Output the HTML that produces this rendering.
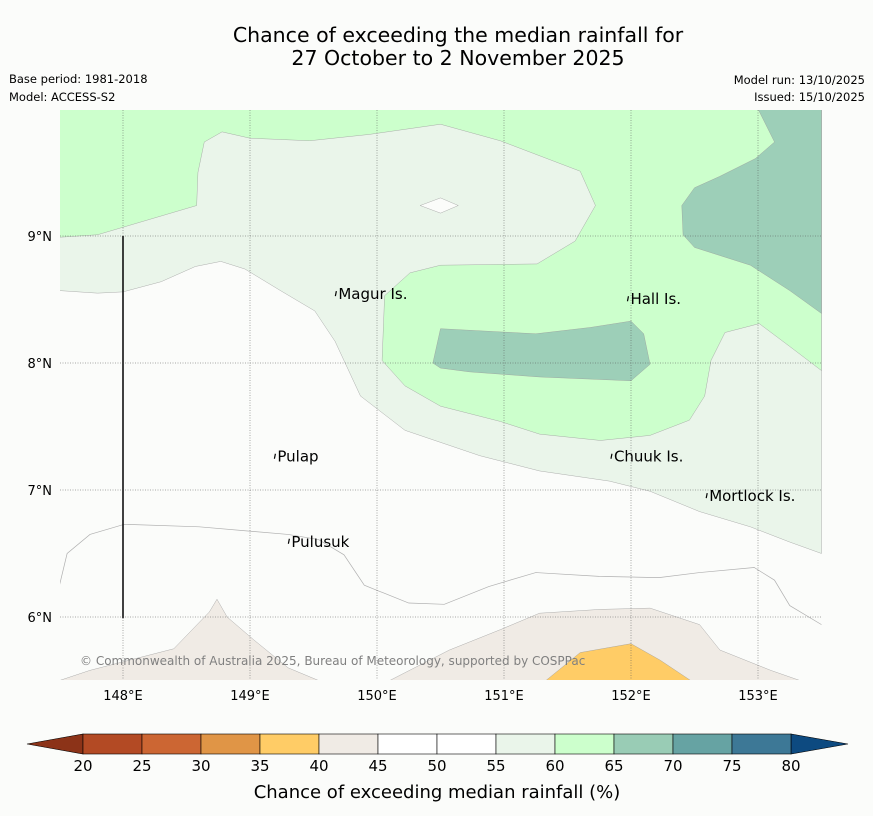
<!DOCTYPE html>
<html><head><meta charset="utf-8"><style>
body{margin:0;background:#fbfcfa;font-family:"DejaVu Sans","Liberation Sans",sans-serif;}
svg{display:block}
</style></head><body>
<svg id="chart" width="873" height="816" viewBox="0 0 873 816" xmlns="http://www.w3.org/2000/svg" font-family="DejaVu Sans, Liberation Sans, sans-serif">
<rect width="873" height="816" fill="#fbfcfa"/>
<text x="458" y="42" font-size="20.5" text-anchor="middle" fill="#000">Chance of exceeding the median rainfall for</text>
<text x="458" y="65" font-size="20.5" text-anchor="middle" fill="#000">27 October to 2 November 2025</text>
<text x="9" y="83" font-size="11.5">Base period: 1981-2018</text>
<text x="9" y="101" font-size="11.5">Model: ACCESS-S2</text>
<text x="865" y="84" font-size="11.5" text-anchor="end">Model run: 13/10/2025</text>
<text x="865" y="101" font-size="11.5" text-anchor="end">Issued: 15/10/2025</text>
<g id="map"></g>
<g id="cbar"></g>
<text x="437" y="798" font-size="18" text-anchor="middle">Chance of exceeding median rainfall (%)</text>
</svg>
<script>
const lonTicks=[148,149,150,151,152,153];
const latTicks=[6,7,8,9];
const cbLevels=[20,25,30,35,40,45,50,55,60,65,70,75,80];
const cbColors=["#b34a24","#cc6633","#e09546","#ffcc66","#f0ebe5","#ffffff","#ffffff","#eaf5ea","#ccffcc","#99ccb5","#66a3a3","#3d7896"];
const lightGreen=[[147.5,10],[147.5,8.57],[147.8,8.55],[148,8.56],[148.3,8.64],[148.57,8.76],[148.77,8.8],[148.96,8.74],[149.24,8.57],[149.51,8.41],[149.67,8.17],[149.87,7.74],[150.22,7.47],[150.81,7.27],[151.28,7.15],[151.83,7.07],[152.15,6.99],[152.54,6.83],[152.94,6.71],[153.25,6.59],[153.5,6.5],[153.5,10]];
const green=[[147.5,10],[147.5,8.99],[147.8,9.01],[148.58,9.24],[148.59,9.5],[148.64,9.74],[148.78,9.82],[149,9.77],[149.47,9.75],[149.94,9.8],[150.5,9.88],[150.97,9.75],[151.6,9.51],[151.72,9.24],[151.56,8.96],[151.26,8.78],[150.5,8.77],[150.26,8.71],[150.06,8.53],[150.04,8.02],[150.22,7.82],[150.5,7.66],[150.97,7.54],[151.28,7.44],[151.76,7.39],[152.15,7.43],[152.46,7.55],[152.58,7.74],[152.63,8.02],[152.74,8.24],[153.01,8.31],[153.25,8.13],[153.5,7.94],[153.5,10]];
const teal1=[[153.0,10],[153.13,9.74],[152.98,9.61],[152.7,9.47],[152.5,9.38],[152.4,9.24],[152.41,9.01],[152.5,8.91],[152.94,8.77],[153.25,8.57],[153.5,8.39],[153.5,10]];
const teal2=[[150.5,8.27],[151.25,8.23],[151.68,8.28],[152.0,8.33],[152.1,8.23],[152.15,7.99],[152.0,7.86],[151.28,7.89],[150.73,7.93],[150.5,7.96],[150.44,8.0]];
const hole=[[150.34,9.24],[150.5,9.3],[150.64,9.24],[150.5,9.18]];
const beige1=[[147.5,5.5],[147.74,5.58],[148.05,5.66],[148.4,5.75],[148.68,6.04],[148.74,6.14],[148.82,6.0],[149.03,5.82],[149.3,5.6],[149.54,5.5]];
const beige2=[[150.1,5.5],[150.57,5.74],[150.97,5.9],[151.28,6.03],[151.76,6.06],[152.15,6.07],[152.54,5.94],[152.7,5.74],[153.1,5.58],[153.33,5.5]];
const yellow=[[151.33,5.5],[151.6,5.72],[152.0,5.79],[152.23,5.66],[152.47,5.5]];
const line50=[[147.5,6.25],[147.56,6.5],[147.74,6.65],[148.01,6.73],[148.6,6.71],[149.3,6.65],[149.54,6.61],[149.74,6.49],[149.9,6.25],[150.25,6.11],[150.53,6.1],[150.88,6.24],[151.25,6.35],[151.75,6.32],[152.22,6.31],[152.54,6.35],[152.97,6.39],[153.13,6.29],[153.25,6.09],[153.5,5.94]];
const islands=[["Magur Is.",149.68,8.55],["Hall Is.",151.98,8.51],["Pulap",149.2,7.27],["Chuuk Is.",151.85,7.27],["Mortlock Is.",152.6,6.96],["Pulusuk",149.31,6.6]];
const X0=59.5,Y9=236,S=127;
const xs=lon=>X0+(lon-147.5)*S;
const ys=lat=>Y9-(lat-9)*S;
const NS="http://www.w3.org/2000/svg";
const map=document.getElementById('map');
function mk(tag,attrs,parent){const e=document.createElementNS(NS,tag);for(const k in attrs)e.setAttribute(k,attrs[k]);parent.appendChild(e);return e;}
const clip=mk('clipPath',{id:'mc'},map);mk('rect',{x:60,y:110,width:762,height:570},clip);
const g=mk('g',{'clip-path':'url(#mc)'},map);
mk('rect',{x:60,y:110,width:762,height:570,fill:'#fbfcfa'},g);
function poly(pts,fill,name){const p=mk('polygon',{points:pts.map(q=>xs(q[0])+','+ys(q[1])).join(' '),fill:fill,stroke:'#9a9a9a','stroke-width':0.4},g);

}
poly(lightGreen,'#eaf5ea','contour-55-60');
poly(green,'#ccffcc','contour-60-65');
poly(hole,'#fbfcfa','contour-hole');
poly(teal1,'#9dcfb8','contour-65-70-east');
poly(teal2,'#9dcfb8','contour-65-70-central');
poly(beige1,'#f0ebe5','contour-40-45-west');
poly(beige2,'#f0ebe5','contour-40-45-east');
poly(yellow,'#ffcc66','contour-35-40');
const pl=mk('polyline',{points:line50.map(q=>xs(q[0])+','+ys(q[1])).join(' '),fill:'none',stroke:'#b0b0b0','stroke-width':0.7},g);


lonTicks.forEach(l=>{const ln=mk('line',{x1:xs(l),x2:xs(l),y1:110,y2:680,stroke:'#555','stroke-width':0.5,'stroke-dasharray':'1,1.5'},g);


const t=mk('text',{x:xs(l),y:700,'font-size':13,'text-anchor':'middle'},map);t.textContent=l+'°E';

});
latTicks.forEach(l=>{const ln=mk('line',{x1:60,x2:822,y1:ys(l),y2:ys(l),stroke:'#555','stroke-width':0.5,'stroke-dasharray':'1,1.5'},g);


const t=mk('text',{x:52,y:ys(l)+5,'font-size':13,'text-anchor':'end'},map);t.textContent=l+'°N';

});
const bl=mk('line',{x1:xs(148),x2:xs(148),y1:ys(9),y2:ys(5.99),stroke:'#111','stroke-width':1.6},g);


islands.forEach(d=>{const m=mk('path',{d:`M${xs(d[1])-1},${ys(d[2])+3} l1,-5`,fill:'none',stroke:'#000','stroke-width':1.2},g);


const t=mk('text',{x:xs(d[1])+2,y:ys(d[2])+6,'font-size':15},g);t.textContent=d[0];

});
const cp=mk('text',{x:80,y:665,'font-size':12,fill:'#808080'},g);cp.textContent='© Commonwealth of Australia 2025, Bureau of Meteorology, supported by COSPPac';


const cb=document.getElementById('cbar');
const cx=v=>83+(v-20)*(708/60);
const cy0=734,cy1=754;
const lt=mk('polygon',{points:`27,744 ${cx(20)},${cy0} ${cx(20)},${cy1}`,fill:'#8c3318',stroke:'#000','stroke-width':0.6},cb);


const rt=mk('polygon',{points:`848,744 ${cx(80)},${cy0} ${cx(80)},${cy1}`,fill:'#0d4a80',stroke:'#000','stroke-width':0.6},cb);


cbColors.forEach((c,i)=>{const r=mk('rect',{x:cx(cbLevels[i]),y:cy0,width:cx(cbLevels[i+1])-cx(cbLevels[i]),height:cy1-cy0,fill:c,stroke:'#000','stroke-width':0.6},cb);

});
cbLevels.forEach(v=>{const t=mk('text',{x:cx(v),y:771,'font-size':15,'text-anchor':'middle'},cb);t.textContent=v;

});
</script>
</body></html>
